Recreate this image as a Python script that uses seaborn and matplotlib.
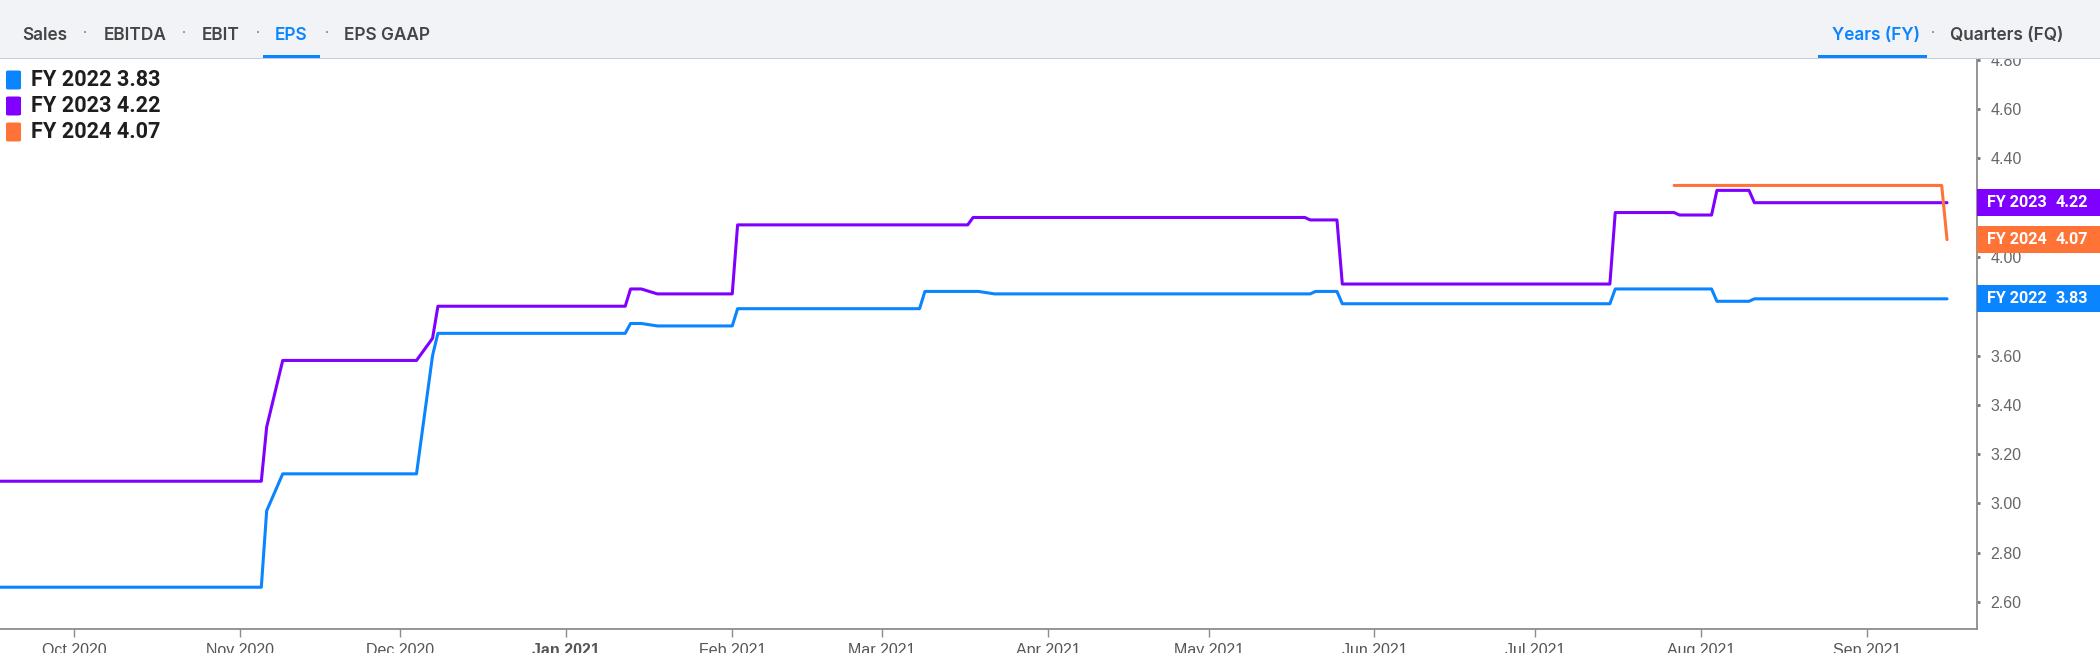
import pandas as pd
import matplotlib
matplotlib.use("Agg")
import matplotlib.pyplot as plt
from matplotlib.patches import Rectangle, FancyBboxPatch
from matplotlib.transforms import blended_transform_factory
import seaborn as sns

# consensus EPS estimates
fy2022_dates = ["2020-09-16", "2020-11-05", "2020-11-06", "2020-11-09", "2020-12-04", "2020-12-07",
                "2020-12-08", "2021-01-12", "2021-01-13", "2021-01-15", "2021-01-18", "2021-02-01",
                "2021-02-02", "2021-03-08", "2021-03-09", "2021-03-19", "2021-03-22", "2021-05-20",
                "2021-05-21", "2021-05-25", "2021-05-26", "2021-07-15", "2021-07-16", "2021-08-03",
                "2021-08-04", "2021-08-10", "2021-08-11", "2021-09-16"]
fy2022_eps = [2.66, 2.66, 2.97, 3.12, 3.12, 3.60,
              3.69, 3.69, 3.73, 3.73, 3.72, 3.72,
              3.79, 3.79, 3.86, 3.86, 3.85, 3.85,
              3.86, 3.86, 3.81, 3.81, 3.87, 3.87,
              3.82, 3.82, 3.83, 3.83]

fy2023_dates = ["2020-09-16", "2020-11-05", "2020-11-06", "2020-11-09", "2020-12-04", "2020-12-07",
                "2020-12-08", "2021-01-12", "2021-01-13", "2021-01-15", "2021-01-18", "2021-02-01",
                "2021-02-02", "2021-03-17", "2021-03-18", "2021-05-19", "2021-05-20", "2021-05-25",
                "2021-05-26", "2021-07-15", "2021-07-16", "2021-07-27", "2021-07-28", "2021-08-03",
                "2021-08-04", "2021-08-10", "2021-08-11", "2021-09-16"]
fy2023_eps = [3.09, 3.09, 3.31, 3.58, 3.58, 3.67,
              3.80, 3.80, 3.87, 3.87, 3.85, 3.85,
              4.13, 4.13, 4.16, 4.16, 4.15, 4.15,
              3.89, 3.89, 4.18, 4.18, 4.17, 4.17,
              4.27, 4.27, 4.22, 4.22]

fy2024_dates = ["2021-07-27", "2021-09-15", "2021-09-16"]
fy2024_eps = [4.29, 4.29, 4.07]

series_names = ["FY 2022", "FY 2023", "FY 2024"]
series_colors = ["#0a84ff", "#8000ff", "#ff7337"]

month_ticks = pd.date_range("2020-10-01", "2021-09-01", freq="MS")
y_ticks = [2.60, 2.80, 3.00, 3.20, 3.40, 3.60, 3.80, 4.00, 4.20, 4.40, 4.60, 4.80]

metric_tabs = ["Sales", "EBITDA", "EBIT", "EPS", "EPS GAAP"]
period_tabs = ["Years (FY)", "Quarters (FQ)"]

frames = []
for name, d, v in zip(series_names, [fy2022_dates, fy2023_dates, fy2024_dates],
                      [fy2022_eps, fy2023_eps, fy2024_eps]):
    frames.append(pd.DataFrame({"date": pd.to_datetime(d), "eps": v, "series": name}))
df = pd.concat(frames, ignore_index=True)
last_values = df.groupby("series", sort=False)["eps"].last()

sns.set_theme(style="white")
plt.rcParams["font.family"] = ["Liberation Sans", "DejaVu Sans"]

W, H = 2100, 653
fig = plt.figure(figsize=(W / 100, H / 100), dpi=100)
ax = fig.add_axes([0, 24 / H, 1977 / W, (629 - 58) / H])

sns.lineplot(data=df, x="date", y="eps", hue="series", palette=dict(zip(series_names, series_colors)),
             estimator=None, linewidth=2.2, legend=False, ax=ax)

ax.set_xlim(pd.Timestamp("2020-10-01") - pd.Timedelta(days=13.83),
            pd.Timestamp("2020-10-01") + pd.Timedelta(days=355.6))
ax.set_ylim(2.4905, 4.807)
ax.set_xlabel("")
ax.set_ylabel("")

# value boxes on the right hide the tick labels they sit on
box_h = 26.7 / 246.5
covered = [t for t in y_ticks if any(abs(t - v) < box_h / 2 for v in last_values)]

ax.yaxis.tick_right()
ax.set_yticks(y_ticks)
ax.set_yticklabels(["" if t in covered else f"{t:.2f}" for t in y_ticks])
ax.set_xticks(month_ticks)
ax.set_xticklabels([d.strftime("%b %Y") for d in month_ticks])
for lbl in ax.get_xticklabels():
    if lbl.get_text().startswith("Jan"):
        lbl.set_fontweight("bold")
        lbl.set_color("#333333")

for side in ["left", "top"]:
    ax.spines[side].set_visible(False)
for side in ["right", "bottom"]:
    ax.spines[side].set_color("#8c8c8c")
    ax.spines[side].set_linewidth(1.3)

ax.tick_params(axis="y", length=2.5, width=2, color="#777777", pad=7, labelsize=11.5, labelcolor="#666666")
ax.tick_params(axis="x", bottom=True, length=6, width=1, color="#8c8c8c", pad=4, labelsize=11.5,
               labelcolor="#555555")

# header band with tabs
fig.patches.append(Rectangle((0, 1 - 58 / H), 1, 58 / H, transform=fig.transFigure,
                             facecolor="#f2f3f7", edgecolor="none", zorder=1))
fig.patches.append(Rectangle((0, 1 - 59 / H), 1, 1.2 / H, transform=fig.transFigure,
                             facecolor="#c9cdd8", edgecolor="none", zorder=1))

tab_font = dict(family=["Inter", "DejaVu Sans"], fontsize=12.4, fontweight="semibold", va="center")
tab_x = [22, 104, 202, 275, 344]
dot_x = [85, 184, 258, 327]
for label, x in zip(metric_tabs, tab_x):
    color = "#0a84ff" if label == "EPS" else "#454545"
    fig.text(x / W, 1 - 36 / H, label, color=color, zorder=3, **tab_font)
for x in dot_x:
    fig.text(x / W, 1 - 33 / H, "·", color="#777777", ha="center", zorder=3, **{**tab_font, "fontsize": 9})
fig.patches.append(Rectangle((263 / W, 1 - 58 / H), 57 / W, 3 / H, transform=fig.transFigure,
                             facecolor="#0a84ff", edgecolor="none", zorder=2))

fig.text(1832 / W, 1 - 36 / H, period_tabs[0], color="#0a84ff", zorder=3, **tab_font)
fig.text(1933 / W, 1 - 33 / H, "·", color="#777777", ha="center", zorder=3, **{**tab_font, "fontsize": 9})
fig.text(1950 / W, 1 - 36 / H, period_tabs[1], color="#454545", zorder=3, **tab_font)
fig.patches.append(Rectangle((1818 / W, 1 - 58 / H), 109 / W, 3 / H, transform=fig.transFigure,
                             facecolor="#0a84ff", edgecolor="none", zorder=2))

# legend top-left
for i, (name, color) in enumerate(zip(series_names, series_colors)):
    yc = 80 + 26 * i
    fig.patches.append(FancyBboxPatch((6 / W, 1 - (yc + 9.5) / H), 15 / W, 19 / H,
                                      boxstyle="round,pad=0,rounding_size=0.0015",
                                      transform=fig.transFigure, facecolor=color,
                                      edgecolor="none", zorder=2))
    fig.text(31 / W, 1 - yc / H, f"{name} {last_values[name]:.2f}", fontsize=15.6, fontweight="bold",
             family=["Roboto", "DejaVu Sans"], color="#1e1e1e", va="center", zorder=3)

# last-value boxes on the right axis
trans = blended_transform_factory(fig.transFigure, ax.transData)
for name, color in zip(series_names, series_colors):
    v = last_values[name]
    fig.patches.append(Rectangle((1977 / W, v - box_h / 2), 1 - 1977 / W, box_h, transform=trans,
                                 facecolor=color, edgecolor="none", zorder=2))
    fig.text(1987 / W, v, name, transform=trans, color="white", fontsize=11.6, fontweight="bold",
             family=["Roboto", "DejaVu Sans"], va="center", zorder=3)
    fig.text(2088 / W, v, f"{v:.2f}", transform=trans, color="white", fontsize=11.6, fontweight="bold",
             family=["Roboto", "DejaVu Sans"], va="center", ha="right", zorder=3)

fig.savefig("out.png", dpi=100)
